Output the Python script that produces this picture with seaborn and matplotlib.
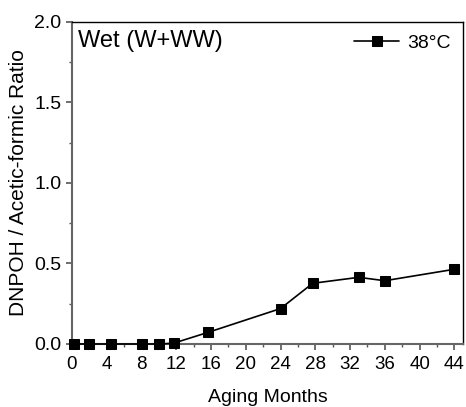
import matplotlib
matplotlib.use("Agg")
import matplotlib.pyplot as plt
import seaborn as sns
import pandas as pd
from matplotlib.ticker import MultipleLocator, FormatStrFormatter

sns.set_theme(style="white")
plt.rcParams["font.family"] = ["Liberation Sans", "DejaVu Sans"]
plt.rcParams["text.color"] = "black"
plt.rcParams["axes.labelcolor"] = "black"
plt.rcParams["xtick.color"] = "black"
plt.rcParams["ytick.color"] = "black"

months = [0.25, 2, 4.5, 8, 10, 11.7, 15.7, 24, 27.7, 33, 36, 44]
ratio = [0.0, 0.0, 0.0, 0.0, 0.0, 0.005, 0.073, 0.22, 0.377, 0.414, 0.393, 0.464]
series = "38°C"

df = pd.DataFrame({"Aging Months": months, "ratio": ratio, "Temp": series})

fig = plt.figure(figsize=(4.66, 4.07), dpi=100)
ax = fig.add_axes([0.1545, 0.1548, 0.8391, 0.7912])

sns.lineplot(data=df, x="Aging Months", y="ratio", hue="Temp",
             palette=["black"], marker="s", markersize=7.3, linewidth=1.2,
             markeredgecolor="black", ax=ax, clip_on=False, zorder=3)

ax.set_xlim(0, 45)
ax.set_ylim(0, 2.0)
ax.xaxis.set_major_locator(MultipleLocator(4))
ax.xaxis.set_minor_locator(MultipleLocator(2))
ax.yaxis.set_major_locator(MultipleLocator(0.5))
ax.yaxis.set_minor_locator(MultipleLocator(0.25))
ax.yaxis.set_major_formatter(FormatStrFormatter("%.1f"))

ax.tick_params(axis="both", which="major", direction="out", length=4.5, width=1.2,
               color="#555555", labelcolor="black", bottom=True, left=True)
ax.tick_params(axis="x", which="major", labelsize=13.5, pad=4.5)
ax.tick_params(axis="y", which="major", labelsize=14, pad=3)
ax.tick_params(axis="both", which="minor", direction="out", length=2.5, width=1.0,
               color="#555555", bottom=True, left=True)

for side in ["left", "bottom"]:
    ax.spines[side].set_color("#666666")
    ax.spines[side].set_linewidth(1.5)
for side in ["top", "right"]:
    ax.spines[side].set_color("black")
    ax.spines[side].set_linewidth(1.0)

ax.set_xlabel("Aging Months", fontsize=14, labelpad=11, color="black")
ax.set_ylabel("DNPOH / Acetic-formic Ratio", fontsize=15, labelpad=5, color="black")

ax.text(0.015, 0.975, "Wet (W+WW)", transform=ax.transAxes, fontsize=17,
        ha="left", va="top", color="black")

leg = ax.legend(loc="upper right", frameon=False, fontsize=14,
                handlelength=2.3, borderaxespad=0.25, handletextpad=0.4)
for t in leg.get_texts():
    t.set_color("black")

fig.savefig("out.png", dpi=100)
